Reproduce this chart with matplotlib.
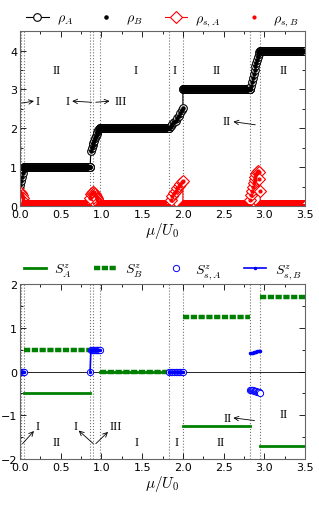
import numpy as np
import matplotlib
matplotlib.use('Agg')
import matplotlib.pyplot as plt
from matplotlib.ticker import MultipleLocator

plt.rcParams.update({
    'mathtext.fontset': 'cm',
    'font.size': 8,
    'xtick.direction': 'in',
    'ytick.direction': 'in',
    'xtick.top': True,
    'ytick.right': True,
})

# ==== Mott lobes (plateaus) ====
lobe_start = [0.05, 0.98, 2.00, 2.95]
lobe_end = [0.86, 1.83, 2.83, 3.50]
lobe_rho = [1.0, 2.0, 3.0, 4.0]
lobe_SA = [-0.5, 0.0, -1.25, -1.7]
lobe_SB = [0.5, 0.0, 1.25, 1.7]

# ==== superfluid windows between lobes ====
sf_mu = [
    [0.00, 0.01, 0.02, 0.03, 0.04, 0.05],
    [0.86, 0.87, 0.88, 0.89, 0.90, 0.91, 0.92, 0.93, 0.94, 0.95, 0.96, 0.97, 0.98],
    [1.83, 1.85, 1.87, 1.89, 1.91, 1.93, 1.95, 1.97, 1.99, 2.00],
    [2.83, 2.84, 2.85, 2.86, 2.87, 2.88, 2.89, 2.90, 2.91, 2.92, 2.93, 2.94, 2.95],
]
sf_rho = [
    [0.55, 0.65, 0.75, 0.85, 0.95, 1.0],
    [1.0, 1.42, 1.5, 1.56, 1.62, 1.68, 1.74, 1.8, 1.85, 1.9, 1.95, 1.98, 2.0],
    [2.0, 2.05, 2.1, 2.15, 2.2, 2.26, 2.32, 2.4, 2.48, 2.52],
    [3.0, 3.1, 3.2, 3.3, 3.4, 3.5, 3.6, 3.68, 3.76, 3.84, 3.9, 3.96, 4.0],
]
sf_rhos = [
    [0.35, 0.33, 0.28, 0.22, 0.13, 0.0],
    [0.22, 0.30, 0.34, 0.36, 0.36, 0.34, 0.31, 0.27, 0.22, 0.17, 0.11, 0.05, 0.0],
    [0.0, 0.15, 0.25, 0.33, 0.40, 0.46, 0.52, 0.57, 0.62, 0.64],
    [0.15, 0.28, 0.40, 0.50, 0.60, 0.68, 0.76, 0.83, 0.88, 0.90, 0.87, 0.70, 0.40],
]
sf_SsA = [
    [0.0, 0.0, 0.0, 0.0, 0.0, 0.0],
    [0.0, 0.5, 0.5, 0.5, 0.5, 0.5, 0.5, 0.5, 0.5, 0.5, 0.5, 0.5, 0.5],
    [0.0, 0.0, 0.0, 0.0, 0.0, 0.0, 0.0, 0.0, 0.0, 0.0],
    [-0.42, -0.42, -0.43, -0.43, -0.44, -0.44, -0.45, -0.45, -0.46, -0.46, -0.47, -0.47, -0.48],
]
sf_SsB = [
    [0.0, 0.0, 0.0, 0.0, 0.0, 0.0],
    [0.0, 0.5, 0.5, 0.5, 0.5, 0.5, 0.5, 0.5, 0.5, 0.5, 0.5, 0.5, 0.5],
    [0.0, 0.0, 0.0, 0.0, 0.0, 0.0, 0.0, 0.0, 0.0, 0.0],
    [0.42, 0.42, 0.43, 0.43, 0.44, 0.44, 0.45, 0.45, 0.46, 0.46, 0.47, 0.47, 0.47],
]

# phase boundaries (dotted lines)
boundaries = [0.01, 0.05, 0.86, 0.90, 0.98, 1.83, 2.00, 2.83, 2.95]

STEP = 0.005


def lobe_grid(i):
    return np.arange(lobe_start[i], lobe_end[i] + 1e-9, STEP)


# assemble density curves: sf window, lobe, sf window, lobe ...
mu_all, rho_all, rhos_all = [], [], []
for i in range(4):
    mu_all += list(sf_mu[i]); rho_all += list(sf_rho[i]); rhos_all += list(sf_rhos[i])
    g = lobe_grid(i)
    mu_all += list(g); rho_all += [lobe_rho[i]] * len(g); rhos_all += [0.0] * len(g)
mu_all = np.array(mu_all)

# spin curves, separated by gaps
muS, SA, SB = [], [], []
for i in range(4):
    g = lobe_grid(i)
    muS += list(g) + [np.nan]
    SA += [lobe_SA[i]] * len(g) + [np.nan]
    SB += [lobe_SB[i]] * len(g) + [np.nan]
muSs, SsA, SsB = [], [], []
for i in range(4):
    muSs += sf_mu[i] + [np.nan]
    SsA += sf_SsA[i] + [np.nan]
    SsB += sf_SsB[i] + [np.nan]

fig = plt.figure(figsize=(3.19, 5.10), dpi=100)
ax1 = fig.add_axes([0.063, 0.594, 0.893, 0.343])
ax2 = fig.add_axes([0.063, 0.098, 0.893, 0.343])

serif = dict(family='Liberation Serif', fontsize=9)

# ==== top panel: densities ====
ax1.plot(mu_all, rho_all, '-o', color='k', mfc='white', mec='k', ms=5.5, mew=0.8, lw=0.8,
         label=r'$\rho_A$')
ax1.plot(mu_all, rho_all, '.', color='k', ms=4.5, label=r'$\rho_B$')
ax1.plot(mu_all, rhos_all, '-D', color='r', mfc='white', mec='r', ms=6, mew=0.8, lw=0.8,
         label=r'$\rho_{s,A}$')
ax1.plot(mu_all, rhos_all, '.', color='r', ms=4, label=r'$\rho_{s,B}$')

ax1.set_xlim(0, 3.5)
ax1.set_ylim(0, 4.5)
ax1.yaxis.set_major_locator(MultipleLocator(1))

for (tx, ty, s) in [(0.45, 3.5, 'II'), (1.42, 3.5, 'I'), (1.90, 3.5, 'I'),
                    (2.42, 3.5, 'II'), (3.24, 3.5, 'II'),
                    (0.22, 2.7, 'I'), (0.58, 2.7, 'I'), (1.24, 2.7, 'III'), (2.54, 2.2, 'II')]:
    ax1.text(tx, ty, s, ha='center', va='center', **serif)
for tail, head in [((0.02, 2.65), (0.17, 2.7)), ((0.88, 2.67), (0.64, 2.7)),
                   ((0.93, 2.67), (1.10, 2.7)), ((2.89, 2.09), (2.62, 2.17))]:
    ax1.annotate('', xy=head, xytext=tail,
                 arrowprops=dict(arrowstyle='->', lw=0.6, color='k', shrinkA=0, shrinkB=0))

# ==== bottom panel: spins ====
ax2.axhline(0, color='k', lw=0.6, zorder=1)
ax2.plot(muS, SA, '-', color='g', lw=2, label=r'$S^z_A$')
ax2.plot(muS, SB, color='g', lw=3.2, dashes=(1.4, 0.35), label=r'$S^z_B$')
ax2.plot(muSs, SsA, 'o', color='b', mfc='white', mec='b', ms=4.5, mew=0.7, label=r'$S^z_{s,A}$')
ax2.plot(muSs, SsB, '.-', color='b', ms=3, lw=1.2, label=r'$S^z_{s,B}$')

ax2.set_xlim(0, 3.5)
ax2.set_ylim(-2, 2)
ax2.yaxis.set_major_locator(MultipleLocator(1))

for (tx, ty, s) in [(0.45, -1.62, 'II'), (1.43, -1.62, 'I'), (1.92, -1.62, 'I'),
                    (2.47, -1.62, 'II'), (3.24, -0.98, 'II'),
                    (0.22, -1.25, 'I'), (0.68, -1.25, 'I'), (1.18, -1.25, 'III'),
                    (2.55, -1.06, 'II')]:
    ax2.text(tx, ty, s, ha='center', va='center', **serif)
for tail, head in [((0.03, -1.65), (0.17, -1.36)), ((0.90, -1.65), (0.72, -1.35)),
                   ((0.93, -1.65), (1.08, -1.38)), ((2.88, -1.12), (2.62, -1.06))]:
    ax2.annotate('', xy=head, xytext=tail,
                 arrowprops=dict(arrowstyle='->', lw=0.6, color='k', shrinkA=0, shrinkB=0))

for ax in (ax1, ax2):
    for b in boundaries:
        ax.axvline(b, color='0.45', ls=':', lw=0.8, zorder=0)
    ax.xaxis.set_major_locator(MultipleLocator(0.5))
    ax.xaxis.set_minor_locator(MultipleLocator(0.25))
    ax.yaxis.set_minor_locator(MultipleLocator(0.5))
    ax.tick_params(which='major', length=4, width=0.6, labelsize=8, pad=2)
    ax.tick_params(which='minor', length=2.5, width=0.6)
    for sp in ax.spines.values():
        sp.set_color('0.4')
    ax.set_xlabel(r'$\mu/U_0$', fontsize=11, labelpad=1)
    ax.legend(loc='lower center', bbox_to_anchor=(0.5, 1.02), ncol=4, frameon=False,
              fontsize=10, handlelength=1.6, handletextpad=0.6, columnspacing=1.6,
              borderaxespad=0, borderpad=0)

fig.savefig('out.png', dpi=100)
